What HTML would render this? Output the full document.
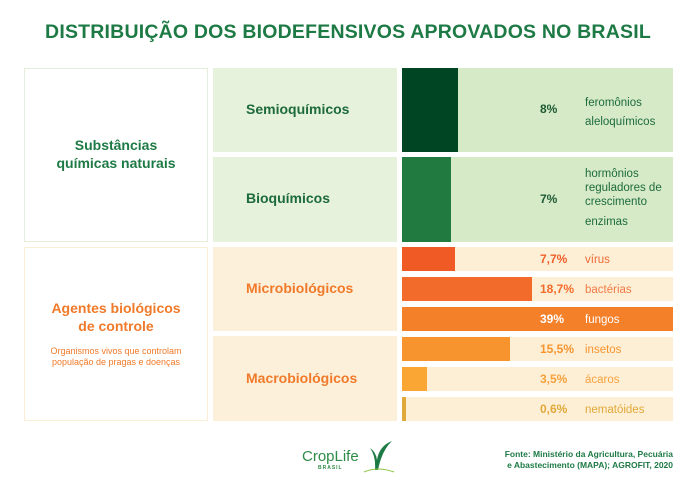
<!DOCTYPE html><html><head><style>
body{margin:0;width:696px;height:498px;background:#fff;font-family:"Liberation Sans",sans-serif;position:relative;overflow:hidden}
div{position:absolute;box-sizing:border-box}
.t{color:#1d7a45;font-weight:bold}
.o{color:#f07a2a}
.pc{left:540px;font-size:12px;font-weight:bold;line-height:14px}
.lb{left:585px;font-size:11.5px;line-height:14px}
</style></head><body>
<div class="t" style="left:0;width:696px;top:21px;text-align:center;font-size:19.5px;letter-spacing:0.2px">DISTRIBUIÇÃO DOS BIODEFENSIVOS APROVADOS NO BRASIL</div>
<div style="left:24px;top:68px;width:184px;height:174px;border:1px solid #e3eedd"></div>
<div style="left:24px;top:247px;width:184px;height:174px;border:1px solid #fbeed6"></div>
<div class="t" style="left:24px;width:184px;top:136px;text-align:center;font-size:14px;line-height:18px">Substâncias<br>químicas naturais</div>
<div class="o" style="left:24px;width:184px;top:299px;text-align:center;font-size:14px;line-height:18px;font-weight:bold">Agentes biológicos<br>de controle</div>
<div class="o" style="left:24px;width:184px;top:346px;text-align:center;font-size:9px;line-height:11px">Organismos vivos que controlam<br>população de pragas e doenças</div>
<div style="left:213px;top:68px;width:184px;height:84px;background:#e6f2dc"></div>
<div style="left:213px;top:157px;width:184px;height:85px;background:#e6f2dc"></div>
<div style="left:213px;top:247px;width:184px;height:84px;background:#fdf0da"></div>
<div style="left:213px;top:336px;width:184px;height:85px;background:#fdf0da"></div>
<div class="t" style="left:246px;top:101px;font-size:14px;color:#1d6b3c">Semioquímicos</div>
<div class="t" style="left:246px;top:190px;font-size:14px;color:#1d6b3c">Bioquímicos</div>
<div class="o" style="left:246px;top:280px;font-size:14px;font-weight:bold">Microbiológicos</div>
<div class="o" style="left:246px;top:370px;font-size:14px;font-weight:bold">Macrobiológicos</div>
<div style="left:402px;top:68px;width:271px;height:84px;background:#d6eac8"></div>
<div style="left:402px;top:68px;width:56px;height:84px;background:#004523"></div>
<div style="left:402px;top:157px;width:271px;height:85px;background:#d6eac8"></div>
<div style="left:402px;top:157px;width:49px;height:85px;background:#217a40"></div>
<div class="pc" style="top:102px;color:#1d5a33">8%</div>
<div class="lb" style="top:94px;color:#1d6b3c;line-height:19px">feromônios<br>aleloquímicos</div>
<div class="pc" style="top:192px;color:#1d5a33">7%</div>
<div class="lb" style="top:167px;color:#1d6b3c;line-height:14px">hormônios<br>reguladores de<br>crescimento</div>
<div class="lb" style="top:215px;color:#1d6b3c">enzimas</div>
<div style="left:402px;top:247px;width:271px;height:24px;background:#fdefd6"></div>
<div style="left:402px;top:247px;width:53px;height:24px;background:#f05a24"></div>
<div style="left:402px;top:277px;width:271px;height:24px;background:#fdefd6"></div>
<div style="left:402px;top:277px;width:130px;height:24px;background:#f26b2b"></div>
<div style="left:402px;top:307px;width:271px;height:24px;background:#f4802a"></div>
<div style="left:402px;top:337px;width:271px;height:24px;background:#fdefd6"></div>
<div style="left:402px;top:337px;width:108px;height:24px;background:#f7942e"></div>
<div style="left:402px;top:367px;width:271px;height:24px;background:#fdefd6"></div>
<div style="left:402px;top:367px;width:25px;height:24px;background:#f9a634"></div>
<div style="left:402px;top:397px;width:271px;height:24px;background:#fdefd6"></div>
<div style="left:402px;top:397px;width:4px;height:24px;background:#e0a838"></div>
<div class="pc" style="top:252px;color:#ef5f2a">7,7%</div><div class="lb" style="top:253px;color:#ef6a35">vírus</div>
<div class="pc" style="top:282px;color:#f26b2b">18,7%</div><div class="lb" style="top:283px;color:#f07a45">bactérias</div>
<div class="pc" style="top:312px;color:#fff">39%</div><div class="lb" style="top:313px;color:#fff">fungos</div>
<div class="pc" style="top:342px;color:#f7942e">15,5%</div><div class="lb" style="top:343px;color:#f7942e">insetos</div>
<div class="pc" style="top:372px;color:#f5a13d">3,5%</div><div class="lb" style="top:373px;color:#f5a13d">ácaros</div>
<div class="pc" style="top:402px;color:#e0a838">0,6%</div><div class="lb" style="top:403px;color:#e0a838">nematóides</div>
<div style="left:302px;top:448px;font-size:15px;color:#2e8b47">CropLife</div>
<div style="left:318px;top:465px;font-size:5px;color:#2e8b47;letter-spacing:1px;font-weight:bold">BRASIL</div>
<svg style="position:absolute;left:362px;top:438px" width="36" height="36"><path d="M13 32 Q14 18 8 10 Q14 14 15 22 Q17 8 30 3 Q20 12 16 32Z" fill="#1d7a45"/><path d="M2 34 Q16 28 32 34" stroke="#8cc63f" fill="none" stroke-width="1"/></svg>
<div class="t" style="left:480px;width:193px;top:449px;text-align:right;font-size:8.5px;line-height:11px">Fonte: Ministério da Agricultura, Pecuária<br>e Abastecimento (MAPA); AGROFIT, 2020</div>
</body></html>
